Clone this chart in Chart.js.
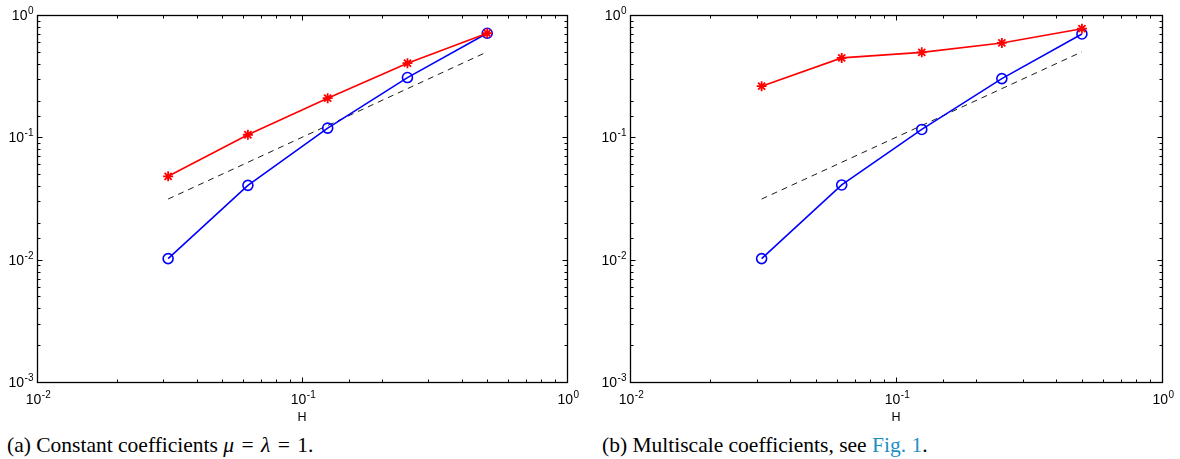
<!DOCTYPE html>
<html>
<head>
<meta charset="utf-8">
<script src="https://cdn.jsdelivr.net/npm/chart.js@4"></script>
<style>
  body { margin: 0; background: #fff; width: 1180px; height: 459px; overflow: hidden; position: relative; }
  .plot { position: absolute; top: 0; width: 590px; height: 425px; }
  .caption { position: absolute; top: 435px; line-height: 21px; font-family: "Liberation Serif", "Times New Roman", serif; font-size: 21.5px; color: #000; white-space: nowrap; }
  .caption a { color: #1b8fc6; text-decoration: none; }
  .eq { padding: 0 2px; }
</style>
</head>
<body>
<div class="plot" style="left:0"><canvas id="chartA"></canvas></div>
<div class="plot" style="left:593px"><canvas id="chartB"></canvas></div>
<div class="caption" style="left:7px">(a) Constant coefficients <i>μ</i> <span class="eq">=</span> <i>λ</i> <span class="eq">=</span> 1.</div>
<div class="caption" style="left:602px">(b) Multiscale coefficients, see <a>Fig. 1</a>.</div>
<script>
'use strict';

// mesh sizes H
let meshSizes = [1 / 32, 1 / 16, 1 / 8, 1 / 4, 1 / 2];

// (a) constant coefficients
let constRed = [0.048, 0.105, 0.209, 0.404, 0.709];
let constBlue = [0.0102, 0.0405, 0.119, 0.308, 0.709];

// (b) multiscale coefficients
let multiRed = [0.262, 0.446, 0.495, 0.591, 0.773];
let multiBlue = [0.0102, 0.0408, 0.116, 0.302, 0.70];

// reference slope line (order 1)
let refLine = [0.0313, 0.0625, 0.125, 0.25, 0.5];

let xRange = [0.01, 1];
let yRange = [0.001, 1];

const baseFont = '14px "Liberation Sans", Arial, sans-serif';
const expFont = '10px "Liberation Sans", Arial, sans-serif';

function decadeExp(v) {
  let e = Math.log10(v);
  if (Math.abs(e - Math.round(e)) > 1e-6) return null;
  return Math.round(e);
}

function toPoints(ys) {
  return ys.map((y, i) => ({ x: meshSizes[i], y: y }));
}

// "10" with a raised exponent, placed by the scale's tick pixels
function drawPower(ctx, e, x, y, align) {
  ctx.font = baseFont;
  let wBase = ctx.measureText('10').width;
  ctx.font = expFont;
  let expText = String(e);
  let wExp = ctx.measureText(expText).width;
  let startX = align === 'right' ? x - wBase - wExp : x - (wBase + wExp) / 2;
  ctx.textAlign = 'left';
  ctx.textBaseline = 'alphabetic';
  ctx.font = baseFont;
  ctx.fillText('10', startX, y);
  ctx.font = expFont;
  ctx.fillText(expText, startX + wBase + 0.5, y - 6);
}

// box, inward tick marks and power-of-ten labels, like the matlab axes
const boxTicks = {
  id: 'boxTicks',
  afterDraw(chart) {
    const ctx = chart.ctx;
    const area = chart.chartArea;
    const xs = chart.scales.x;
    const ys = chart.scales.y;
    const left = Math.round(area.left) + 0.5;
    const right = Math.round(area.right) + 0.5;
    const top = Math.round(area.top) + 0.5;
    const bottom = Math.round(area.bottom) + 0.5;
    ctx.save();
    ctx.strokeStyle = '#000';
    ctx.fillStyle = '#000';
    ctx.lineWidth = 1;
    ctx.beginPath();
    xs.ticks.forEach(t => {
      let px = Math.round(xs.getPixelForValue(t.value)) + 0.5;
      let len = decadeExp(t.value) === null ? 3 : 5;
      ctx.moveTo(px, bottom); ctx.lineTo(px, bottom - len);
      ctx.moveTo(px, top); ctx.lineTo(px, top + len);
    });
    ys.ticks.forEach(t => {
      let py = Math.round(ys.getPixelForValue(t.value)) + 0.5;
      let len = decadeExp(t.value) === null ? 3 : 5;
      ctx.moveTo(left, py); ctx.lineTo(left + len, py);
      ctx.moveTo(right, py); ctx.lineTo(right - len, py);
    });
    ctx.stroke();
    ctx.lineWidth = 1.3;
    ctx.strokeRect(left, top, right - left, bottom - top);

    xs.ticks.forEach(t => {
      let e = decadeExp(t.value);
      if (e === null) return;
      drawPower(ctx, e, xs.getPixelForValue(t.value) + 1, area.bottom + 21.5, 'center');
    });
    ys.ticks.forEach(t => {
      let e = decadeExp(t.value);
      if (e === null) return;
      drawPower(ctx, e, area.left - 4, ys.getPixelForValue(t.value) + 5, 'right');
    });
    ctx.restore();
  }
};

function makeChart(id, redVals, blueVals, padRight) {
  return new Chart(document.getElementById(id), {
    type: 'line',
    data: {
      datasets: [
        {
          data: toPoints(redVals),
          borderColor: '#ff0000',
          backgroundColor: '#ff0000',
          borderWidth: 1.6,
          pointStyle: 'star',
          pointRadius: 5,
          pointBorderWidth: 1.8,
          pointBorderColor: '#ff0000'
        },
        {
          data: toPoints(blueVals),
          borderColor: '#0000ff',
          backgroundColor: 'rgba(0,0,0,0)',
          borderWidth: 1.6,
          pointStyle: 'circle',
          pointRadius: 5,
          pointBorderWidth: 1.6,
          pointBorderColor: '#0000ff'
        },
        {
          data: toPoints(refLine),
          borderColor: '#000',
          borderWidth: 0.9,
          borderDash: [6, 5],
          pointRadius: 0
        }
      ]
    },
    options: {
      responsive: false,
      animation: false,
      events: [],
      layout: { padding: { top: 15, right: padRight, left: 0, bottom: 0 } },
      plugins: { legend: { display: false }, tooltip: { enabled: false } },
      scales: {
        x: {
          type: 'logarithmic',
          min: xRange[0],
          max: xRange[1],
          grid: { display: false },
          border: { display: false },
          ticks: { display: false },
          title: {
            display: true,
            text: 'H',
            color: '#000',
            font: { family: '"Liberation Sans", Arial, sans-serif', size: 12.5 },
            padding: { top: 0, bottom: 0 }
          },
          afterFit(scale) { scale.height = 43; }
        },
        y: {
          type: 'logarithmic',
          min: yRange[0],
          max: yRange[1],
          grid: { display: false },
          border: { display: false },
          ticks: { display: false },
          afterFit(scale) { scale.width = 37; }
        }
      }
    },
    plugins: [boxTicks]
  });
}

['chartA', 'chartB'].forEach(id => {
  document.getElementById(id).width = 590;
  document.getElementById(id).height = 425;
});

makeChart('chartA', constRed, constBlue, 23);
makeChart('chartB', multiRed, multiBlue, 21);
</script>
</body>
</html>
